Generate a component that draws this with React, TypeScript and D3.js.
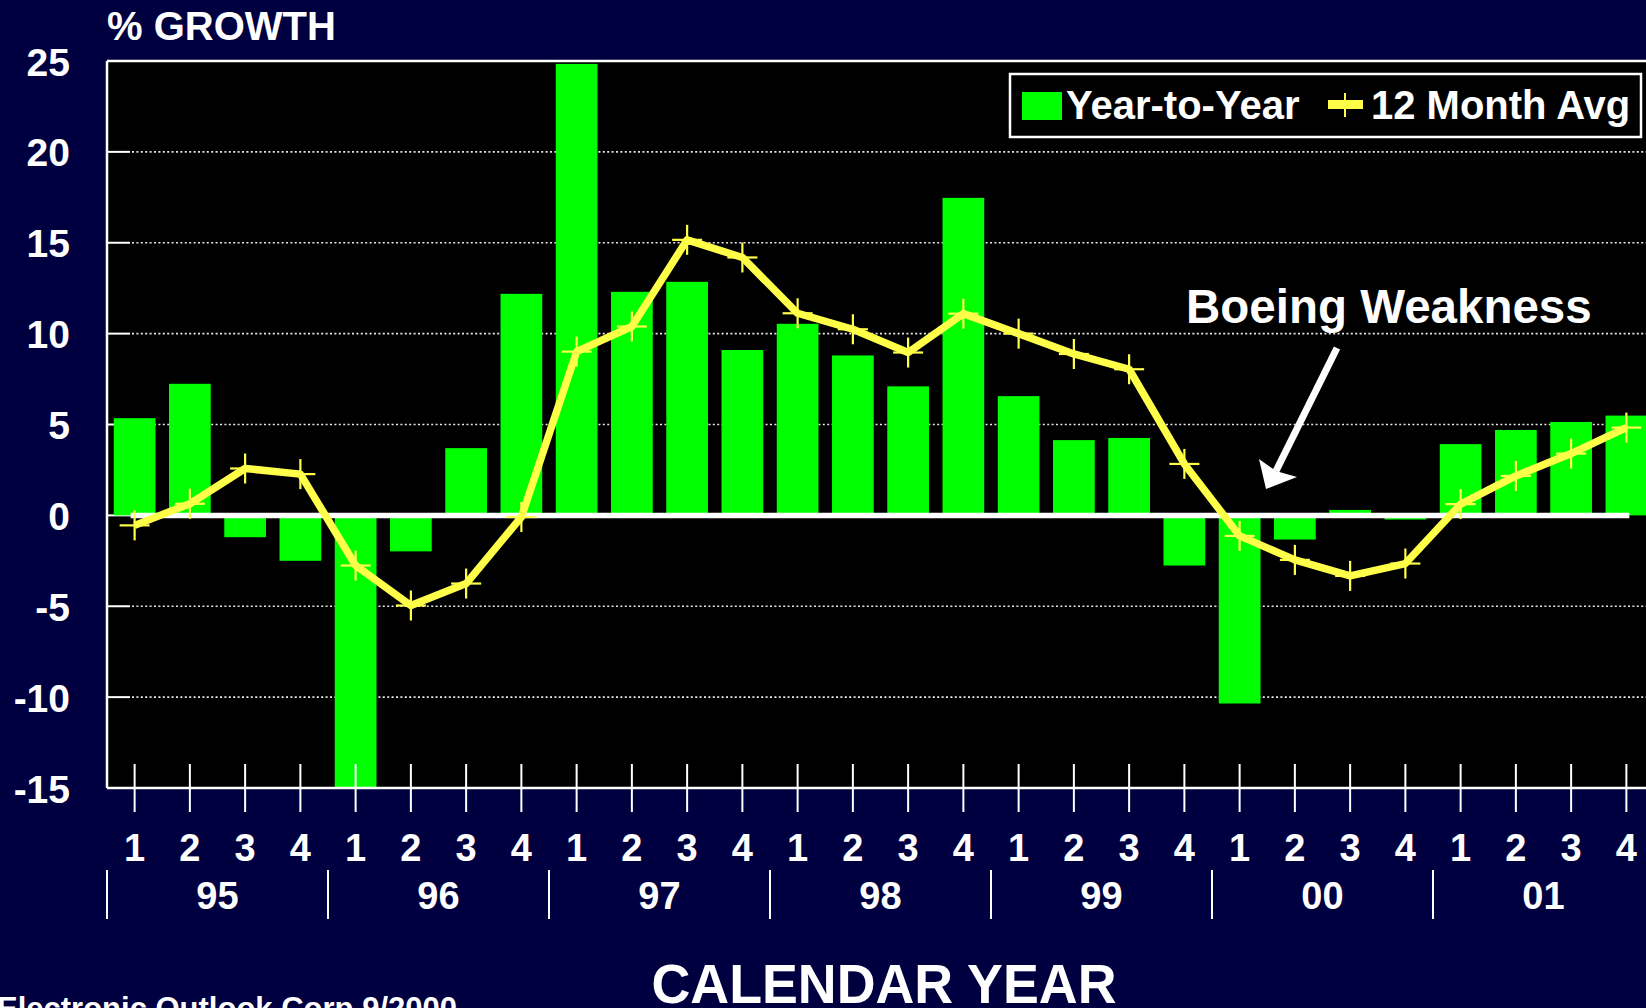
import React from "react";
import * as d3 from "d3";

const years = ["95", "96", "97", "98", "99", "00", "01"];
const quarters = ["1", "2", "3", "4"];
const categories = years.flatMap((y) => quarters.map((q) => `${y}Q${q}`));

const yearToYear = [
  5.35, 7.24, -1.2, -2.5,
  -15.0, -1.98, 3.7, 12.19,
  24.84, 12.3, 12.85, 9.1,
  10.54, 8.8, 7.1, 17.47,
  6.56, 4.14, 4.26, -2.76,
  -10.35, -1.33, 0.3, -0.23,
  3.92, 4.7, 5.14, 5.49,
];

const monthAvg12 = [
  -0.55, 0.64, 2.58, 2.27,
  -2.76, -4.96, -3.75, -0.09,
  9.01, 10.39, 15.16, 14.19,
  11.12, 10.24, 8.96, 11.1,
  10.0, 8.88, 8.04, 2.83,
  -1.13, -2.45, -3.33, -2.65,
  0.62, 2.17, 3.4, 4.83,
];

const yTicks = [25, 20, 15, 10, 5, 0, -5, -10, -15];

const W = 1646;
const H = 1008;
const FONT = "'Liberation Sans', Arial, Helvetica, sans-serif";
const BG = "#000040";
const GREEN = "#00ff00";
const YELLOW = "#ffff4a";

export default function App() {
  const left = 107;
  const top = 61;
  const bottom = 788;
  const step = 55.25;
  const right = left + step * categories.length;

  const x = d3.scalePoint<string>().domain(categories).range([left, right]).padding(0.5);
  const y = d3.scaleLinear().domain([-15, 25]).range([bottom, top]);
  const barW = step * 0.755;

  const line = d3
    .line<number>()
    .x((_, i) => x(categories[i]) as number)
    .y((d) => y(d));

  const firstX = x(categories[0]) as number;
  const lastX = x(categories[categories.length - 1]) as number;

  // arrow geometry
  const aStart = [1337, 348];
  const aTip = [1266, 489];
  const wing1 = [1259, 459];
  const wing2 = [1297, 477];
  const notch = [1276, 471];

  return (
    <svg
      width={W}
      height={H}
      style={{ position: "absolute", left: 0, top: 0, display: "block" }}
      fontFamily={FONT}
      fontWeight="bold"
    >
      <rect x={0} y={0} width={W} height={H} fill={BG} />
      {/* plot area */}
      <rect x={left} y={top} width={right - left} height={bottom - top} fill="#000" />

      {/* gridlines */}
      {yTicks
        .filter((t) => t !== 25 && t !== -15 && t !== 0)
        .map((t) => (
          <g key={`g${t}`}>
            <line x1={left} x2={left + 23} y1={y(t)} y2={y(t)} stroke="#fff" strokeWidth={2} />
            <line
              x1={left + 25}
              x2={right}
              y1={y(t)}
              y2={y(t)}
              stroke="#e8e8e8"
              strokeWidth={1.6}
              strokeDasharray="2 2.4"
            />
          </g>
        ))}
      <line x1={left} x2={left + 24} y1={y(0)} y2={y(0)} stroke="#fff" strokeWidth={2} />

      {/* bars */}
      {yearToYear.map((v, i) => {
        const cx = x(categories[i]) as number;
        const y0 = y(0);
        const yv = y(v);
        return (
          <rect
            key={`b${i}`}
            x={cx - barW / 2}
            y={Math.min(y0, yv)}
            width={barW}
            height={Math.abs(yv - y0)}
            fill={GREEN}
          />
        );
      })}

      {/* zero line */}
      <line x1={firstX - 4} x2={lastX + 3} y1={y(0)} y2={y(0)} stroke="#fff" strokeWidth={5.5} />

      {/* 12 month avg line */}
      <path
        d={line(monthAvg12) || ""}
        fill="none"
        stroke={YELLOW}
        strokeWidth={7.5}
        strokeLinejoin="round"
      />
      {monthAvg12.map((v, i) => {
        const cx = x(categories[i]) as number;
        const cy = y(v);
        return (
          <g key={`m${i}`} stroke={YELLOW} strokeWidth={2.2}>
            <line x1={cx - 15} x2={cx + 15} y1={cy} y2={cy} />
            <line x1={cx} x2={cx} y1={cy - 15} y2={cy + 15} />
          </g>
        );
      })}

      {/* plot borders */}
      <line x1={left} x2={W} y1={top} y2={top} stroke="#fff" strokeWidth={2.5} />
      <line x1={left} x2={left} y1={top} y2={bottom} stroke="#fff" strokeWidth={2.5} />
      <line x1={left} x2={W} y1={bottom} y2={bottom} stroke="#fff" strokeWidth={2.5} />

      {/* x ticks */}
      {categories.map((c) => (
        <line
          key={`t${c}`}
          x1={x(c) as number}
          x2={x(c) as number}
          y1={bottom - 24}
          y2={bottom + 24}
          stroke="#fff"
          strokeWidth={2}
        />
      ))}

      {/* y tick labels */}
      {yTicks.map((t) => (
        <text
          key={`yl${t}`}
          x={70}
          y={y(t) + 14.5}
          textAnchor="end"
          fontSize={39}
          fill="#fff"
        >
          {t}
        </text>
      ))}

      {/* quarter labels */}
      {categories.map((c, i) => (
        <text
          key={`ql${c}`}
          x={x(c) as number}
          y={861}
          textAnchor="middle"
          fontSize={38}
          fill="#fff"
        >
          {quarters[i % 4]}
        </text>
      ))}

      {/* year separators and labels */}
      {years.map((yr, k) => {
        const x0 = left + k * 4 * step;
        const x1 = x0 + 4 * step;
        return (
          <g key={`y${yr}`}>
            <line x1={x0} x2={x0} y1={870} y2={919} stroke="#fff" strokeWidth={2} />
            <text x={(x0 + x1) / 2} y={909} textAnchor="middle" fontSize={38} fill="#fff">
              {yr}
            </text>
          </g>
        );
      })}

      {/* titles */}
      <text x={107} y={40} fontSize={40} fill="#fff">
        % GROWTH
      </text>
      <text
        x={884}
        y={1003}
        textAnchor="middle"
        fontSize={55}
        fill="#fff"
        textLength={465}
        lengthAdjust="spacingAndGlyphs"
      >
        CALENDAR YEAR
      </text>
      <text x={-3} y={1019} fontSize={31} fill="#fff">
        Electronic Outlook Corp 9/2000
      </text>

      {/* legend */}
      <rect x={1010} y={74} width={631} height={63} fill="#000" stroke="#fff" strokeWidth={2.5} />
      <rect x={1022} y={92} width={40} height={28} fill={GREEN} />
      <text x={1066} y={119} fontSize={40} fill="#fff">
        Year-to-Year
      </text>
      <line x1={1328} x2={1363} y1={104.5} y2={104.5} stroke={YELLOW} strokeWidth={9} />
      <line x1={1345} x2={1345} y1={93} y2={117} stroke={YELLOW} strokeWidth={2} />
      <text x={1371} y={119} fontSize={40} fill="#fff">
        12 Month Avg
      </text>

      {/* annotation */}
      <text x={1186} y={323} fontSize={47.5} fill="#fff">
        Boeing Weakness
      </text>
      <line
        x1={aStart[0]}
        y1={aStart[1]}
        x2={notch[0]}
        y2={notch[1]}
        stroke="#fff"
        strokeWidth={7}
      />
      <polygon
        points={[aTip, wing1, notch, wing2].map((p) => p.join(",")).join(" ")}
        fill="#fff"
      />
    </svg>
  );
}
